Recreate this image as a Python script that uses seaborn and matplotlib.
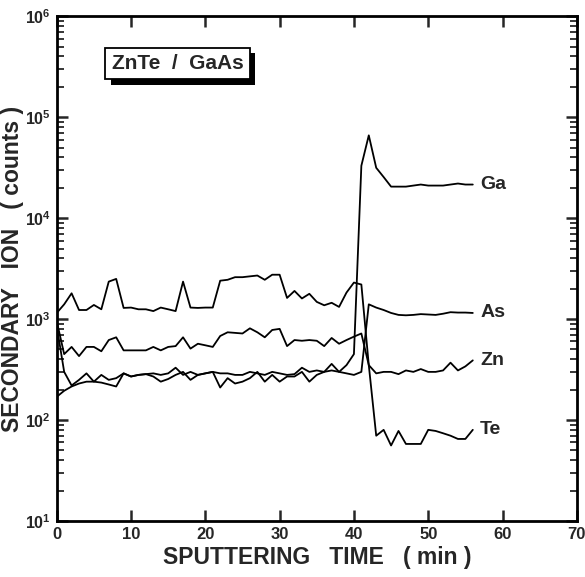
import matplotlib
matplotlib.use("Agg")
import matplotlib.pyplot as plt
import matplotlib.patheffects as pe
from matplotlib.ticker import LogLocator, NullFormatter, FixedLocator
import numpy as np
import pandas as pd
import seaborn as sns

# sputtering time, one reading per minute
time_min = list(range(57))

ga_counts = [170, 195, 215, 230, 240, 240, 235, 225, 215, 290, 270, 280, 285, 270, 240,
             255, 280, 300, 250, 280, 290, 300, 210, 260, 230, 240, 260, 300, 240, 280,
             240, 270, 270, 300, 240, 280, 300, 360, 300, 350, 450, 33000, 66000, 31500, 25500,
             20500, 20500, 20500, 21000, 21500, 21000, 21000, 21000, 21500, 22000, 21500, 21500]
as_counts = [850, 300, 220, 250, 290, 240, 280, 250, 260, 290, 270, 280, 285, 290, 280,
             290, 330, 280, 300, 280, 290, 300, 290, 290, 280, 280, 300, 290, 280, 300,
             290, 280, 285, 330, 300, 310, 300, 310, 300, 290, 280, 300, 1400, 1300, 1230,
             1150, 1100, 1090, 1100, 1120, 1110, 1100, 1130, 1170, 1160, 1160, 1150]
zn_counts = [950, 450, 530, 430, 530, 530, 480, 620, 660, 490, 490, 490, 490, 530, 490,
             530, 540, 660, 510, 570, 550, 530, 680, 740, 730, 720, 810, 740, 660, 780,
             800, 540, 620, 610, 620, 610, 540, 650, 570, 620, 670, 720, 350, 290, 300,
             300, 285, 310, 300, 320, 300, 300, 310, 370, 310, 340, 390]
te_counts = [1150, 1400, 1800, 1230, 1230, 1380, 1250, 2350, 2500, 1290, 1300, 1250, 1250, 1200, 1300,
             1250, 1200, 2350, 1300, 1290, 1300, 1300, 2400, 2450, 2600, 2600, 2650, 2700, 2450, 2750,
             2750, 1620, 1900, 1600, 1780, 1480, 1370, 1450, 1320, 1830, 2300, 2200, 350, 70, 80,
             56, 78, 58, 58, 58, 80, 78, 74, 70, 65, 65, 80]

ions = ["Ga", "As", "Zn", "Te"]
series = [ga_counts, as_counts, zn_counts, te_counts]

df = pd.concat([pd.DataFrame({"time": time_min, "counts": s, "ion": name})
                for name, s in zip(ions, series)], ignore_index=True)

sns.set_style("ticks")
plt.rcParams["font.family"] = ["Liberation Sans", "DejaVu Sans"]
plt.rcParams["mathtext.fontset"] = "custom"
plt.rcParams["mathtext.rm"] = "Liberation Sans"
plt.rcParams["mathtext.bf"] = "Liberation Sans:bold"

fig = plt.figure(figsize=(5.85, 5.77), dpi=100)
ax = fig.add_axes([0.097, 0.097, 0.889, 0.875])

sns.lineplot(data=df, x="time", y="counts", units="ion", estimator=None,
             color="black", linewidth=1.3, ax=ax, legend=False)

ax.set_yscale("log")
ax.set_xlim(0, 70)
ax.set_ylim(10, 1e6)

# end-of-line labels
for name, s in zip(ions, series):
    ax.text(57.0, s[-1], name, fontsize=14, fontweight="bold", va="center", ha="left")

# sample box with drop shadow
t = ax.text(0.232, 0.906, "ZnTe  /  GaAs", transform=ax.transAxes, fontsize=15,
            fontweight="bold", ha="center", va="center",
            bbox=dict(boxstyle="square,pad=0.3", fc="white", ec="black", lw=1.3))
t.get_bbox_patch().set_path_effects([
    pe.SimplePatchShadow(offset=(4, -4), shadow_rgbFace="black", alpha=1.0), pe.Normal()])

# ticks
ax.xaxis.set_major_locator(FixedLocator(np.arange(0, 71, 10)))
ax.set_xticklabels([str(v) for v in range(0, 71, 10)], fontweight="bold", fontsize=12)
ax.yaxis.set_major_locator(FixedLocator([10, 1e2, 1e3, 1e4, 1e5, 1e6]))
ax.yaxis.set_minor_locator(LogLocator(base=10, subs=np.arange(2, 10)))
ax.yaxis.set_minor_formatter(NullFormatter())
ax.set_yticklabels([r"$\mathbf{10^{%d}}$" % e for e in range(1, 7)], fontsize=11.5)

ax.tick_params(axis="both", which="major", direction="in", length=8, width=1.8,
               top=True, right=True, pad=4)
ax.tick_params(axis="y", which="minor", direction="in", length=5, width=1.3,
               left=True, right=True)

for sp in ax.spines.values():
    sp.set_linewidth(2)
    sp.set_color("black")

ax.set_xlabel("SPUTTERING   TIME   ( min )", fontsize=16.5, fontweight="bold", labelpad=3)
ax.set_ylabel("SECONDARY   ION   ( counts )", fontsize=16.5, fontweight="bold", labelpad=1)

fig.savefig("out.png", dpi=100)
